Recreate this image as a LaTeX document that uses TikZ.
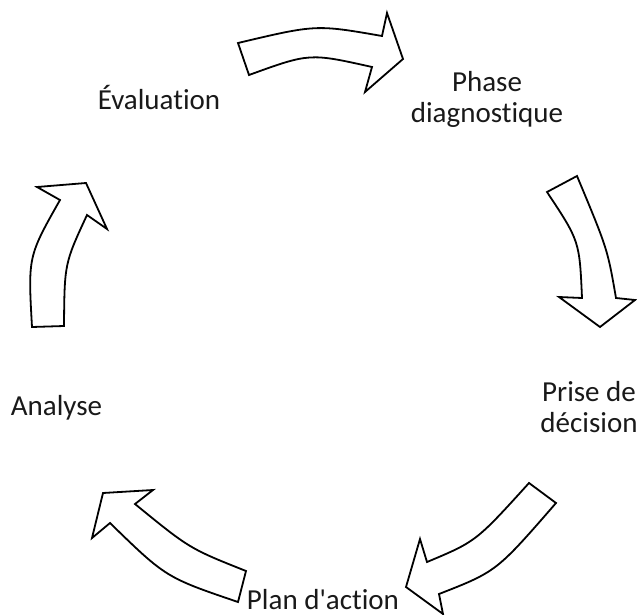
\documentclass[tikz,border=0pt]{standalone}
\usepackage{fontspec}
\setmainfont{Carlito}[Ligatures={NoCommon,TeXOff}]
\begin{document}
\begin{tikzpicture}[x=1pt,y=-1pt,
  cyclearrow/.style={draw=black,fill=white,line width=1.8pt,line join=miter},
  label/.style={inner sep=0pt,align=center,font=\fontsize{29}{31}\selectfont,text=black!90}]
\useasboundingbox (0,0) rectangle (637,615);
% arrow Evaluation -> Phase diagnostique
\path[cyclearrow] (238,43) .. controls (316,24.5) .. (382,36) -- (387,13) -- (403,59) -- (365,92) -- (372,67) .. controls (309.5,53) .. (249,75) -- cycle;
% arrow Phase diagnostique -> Prise de decision
\path[cyclearrow] (547,192) -- (577,176) .. controls (607.5,249) .. (616,298) -- (635,300) -- (600,327) -- (559,297) -- (582,298) .. controls (579.5,241) .. (547,192) -- cycle;
% arrow Prise de decision -> Plan d'action
\path[cyclearrow] (529,483) -- (556,503) .. controls (496.5,571.5) .. (439,594) -- (443,614) -- (406,587) -- (420,539) -- (427,562) .. controls (476,541.5) .. (529,483) -- cycle;
% arrow Plan d'action -> Analyse
\path[cyclearrow] (246,571) .. controls (189.5,548.5) .. (135,504) -- (153,490) -- (103,493) -- (92,538) -- (110,523) .. controls (166,577.5) .. (238,602) -- cycle;
% arrow Analyse -> Evaluation
\path[cyclearrow] (32,327) .. controls (28,256.5) .. (60,200) -- (37,187) -- (86,183) -- (107,229) -- (87,215) .. controls (64.5,263.5) .. (64,326) -- cycle;
% labels
\node[label,anchor=base] (eval) at (159,110) {Évaluation};
\node[label,anchor=base] (diag) at (487,123) {Phase\\diagnostique};
\node[label,anchor=base] (prise) at (589,432) {Prise de\\décision};
\node[label,anchor=base] (plan) at (323,609) {Plan d'action};
\node[label,anchor=base] (anal) at (56.5,415) {Analyse};
\end{tikzpicture}
\end{document}
